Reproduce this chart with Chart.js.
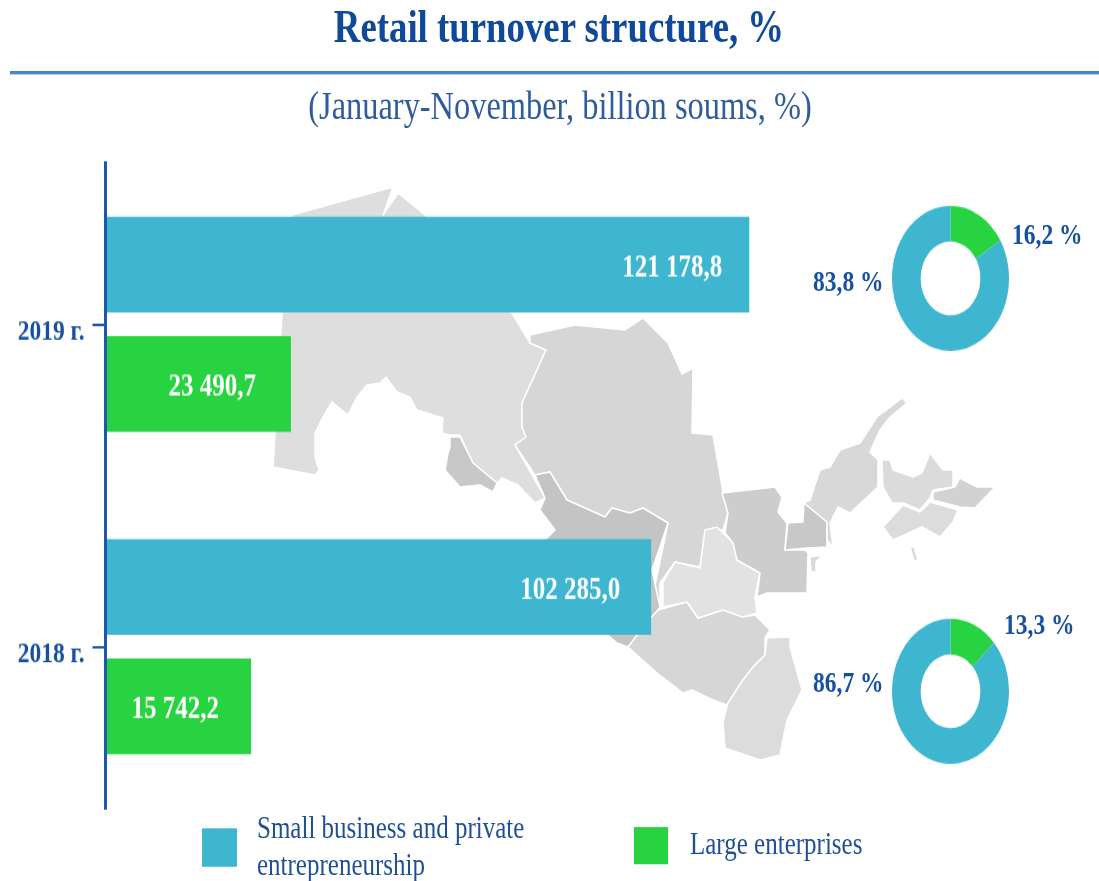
<!DOCTYPE html>
<html>
<head>
<meta charset="utf-8">
<title>Retail turnover structure</title>
<script src="https://cdn.jsdelivr.net/npm/chart.js@4"></script>
<style>
  html, body { margin: 0; padding: 0; background: #fff; overflow: hidden; }
  body { width: 1099px; height: 881px; position: relative; }
  #map { position: absolute; left: 0; top: 0; filter: blur(0.6px); }
  /* the reference is stretched vertically, so everything sits in a box scaled in y */
  #page {
    position: absolute; left: 0; top: 0; width: 1099px; height: 710.5px;
    transform: scaleY(1.24); transform-origin: 0 0;
    font-family: "Liberation Serif", serif; color: #16509e;
  }
  #page > * { position: absolute; }
  #barChart { left: 0; top: 0; }
  #title { left: 0; width: 1118px; top: 0; text-align: center; font-size: 36.8px; font-weight: bold; color: #0f4a9a; white-space: nowrap; }
  #rule { left: 10px; right: 0; top: 57px; height: 3px; background: #4b87c4; }
  #subtitle { left: 0; width: 1120px; top: 67px; text-align: center; font-size: 32.4px; color: #2f5c9c; white-space: nowrap; }
  .donut { width: 117px; height: 117px; }
  #donut2019 { left: 892px; top: 166px; }
  #donut2018 { left: 892px; top: 499px; }
  .share { font-size: 23.5px; font-weight: bold; line-height: 26px; white-space: nowrap; }
  #shareLarge2019 { left: 1012px; top: 176px; }
  #shareSmall2019 { left: 813px; top: 214px; }
  #shareLarge2018 { left: 1004px; top: 490px; }
  #shareSmall2018 { left: 813px; top: 537px; }
  #swatchSmall { left: 202px; top: 668px; width: 35px; height: 31px; background: #3eb6d0; }
  #swatchLarge { left: 634px; top: 667px; width: 34px; height: 30px; background: #27d340; }
  .legendText { font-size: 25px; line-height: 30px; color: #1f4f96; }
  #legendSmall { left: 257px; top: 653px; width: 300px; }
  #legendLarge { left: 690px; top: 666px; white-space: nowrap; }
</style>
</head>
<body>
<!-- background map, traced roughly, only decoration -->
<svg id="map" width="1099" height="881" stroke="#fff" stroke-width="1.5" stroke-linejoin="round">
  <polygon fill="#dedede" points="292,215 393,187 383,215 398,193 425,215 512,313 530,343 546,350 522,403 522,427 526,437 515,445 545,498 535,503 518,485 502,478 497,483 473,463 460,435 450,435 442,433 443,418 417,410 410,397 397,392 386,377 380,383 367,385 357,397 348,415 332,402 323,417 315,433 315,457 319,470 315,475 273,467 282,313"/>
  <polygon fill="#c8c8c8" points="450,437 460,437 473,463 497,483 493,492 480,485 460,487 445,470 448,453 450,447"/>
  <polygon fill="#d6d6d6" points="530,335 575,325 625,330 643,318 668,343 682,374 693,368 692,433 713,435 723,492 728,513 723,530 705,530 700,567 675,562 660,583 660,607 652,600 668,523 643,508 630,513 612,508 605,517 567,500 550,472 535,475 515,445 526,437 522,427 522,403 546,350 530,343"/>
  <polygon fill="#c4c4c4" points="535,475 550,472 567,500 605,517 612,508 630,513 643,508 668,523 652,570 660,607 650,622 628,647 617,643 590,620 545,540 555,530 540,510 545,498"/>
  <polygon fill="#d6d6d6" points="658,610 687,602 698,618 723,610 743,617 755,615 770,630 765,638 765,655 753,667 743,680 727,705 713,700 692,690 683,693 657,673 628,647 647,622"/>
  <polygon fill="#dcdcdc" points="767,638 790,637 790,647 802,690 787,720 780,755 760,760 725,748 723,722 728,703 743,680 753,667 765,655"/>
  <polygon fill="#e2e2e2" points="663,582 675,562 700,568 705,530 717,527 733,543 737,560 760,573 755,597 757,613 743,617 723,610 698,618 687,602 663,607"/>
  <polygon fill="#cdcdcd" points="722,493 775,487 782,497 778,512 787,523 785,550 805,550 808,553 807,593 767,593 757,597 760,573 737,560 733,543 725,533 728,513"/>
  <polygon fill="#c8c8c8" points="804,502 827,522 827,547 807,548 785,550 788,523 803,522"/>
  <polygon fill="#d8d8d8" points="810,500 820,470 830,467 840,450 860,443 877,417 902,398 907,403 890,417 880,430 870,452 878,460 878,487 850,513 838,507 830,523 833,547 827,540 827,522 804,503"/>
  <polygon fill="#dbdbdb" points="882,460 890,460 893,470 913,477 922,473 930,453 943,470 953,470 953,487 933,490 930,498 920,510 903,503 892,503 883,487"/>
  <polygon fill="#d2d2d2" points="933,492 955,487 960,478 977,487 995,487 975,508 960,507 933,500"/>
  <polygon fill="#dcdcdc" points="903,505 920,512 930,502 958,510 953,522 940,537 922,527 893,540 883,527"/>
  <polygon fill="#dadada" points="910,547 914,547 918,560 914,561"/>
  <polygon fill="#dadada" points="810,557 822,555 816,562 816,572 811,572"/>
</svg>
<div id="page">
  <canvas id="barChart"></canvas>
  <div id="title">Retail turnover structure, %</div>
  <div id="rule"></div>
  <div id="subtitle">(January-November, billion soums, %)</div>
  <div class="donut" id="donut2019"><canvas id="donutCanvas2019" width="117" height="117"></canvas></div>
  <div class="donut" id="donut2018"><canvas id="donutCanvas2018" width="117" height="117"></canvas></div>
  <div class="share" id="shareLarge2019"></div>
  <div class="share" id="shareSmall2019"></div>
  <div class="share" id="shareLarge2018"></div>
  <div class="share" id="shareSmall2018"></div>
  <div id="swatchSmall"></div>
  <div id="swatchLarge"></div>
  <div class="legendText" id="legendSmall"></div>
  <div class="legendText" id="legendLarge"></div>
</div>
<script>
const categories = ["2019 г.", "2018 г."];
const seriesNames = ["Small business and private entrepreneurship", "Large enterprises"];

// values printed on the bars
const smallBusinessValues = [121178.8, 102285.0];
const largeEnterpriseValues = [23490.7, 15742.2];

// lengths the bars have in the picture. the green ones are drawn
// longer than their printed values, so length and label are kept apart
const smallBusinessLengths = [121178.8, 102700];
const largeEnterpriseLengths = [34900, 27400];

const smallBusinessShares = [83.8, 86.7];
const largeEnterpriseShares = [16.2, 13.3];

const BLUE = "#3eb6d0";
const GREEN = "#27d340";
const AXIS = "#1c5aa8";
const FONT = "Liberation Serif";

function formatValue(v) {
  return v.toFixed(1).replace(".", ",").replace(/\B(?=(\d{3})+,)/g, " ");
}

function formatShare(v) {
  return v.toFixed(1).replace(".", ",") + " %";
}

// prints the values inside the bars, a bit before their end
const barValuesPlugin = {
  id: "barValues",
  afterDatasetsDraw(chart) {
    const ctx = chart.ctx;
    const printed = [smallBusinessValues, largeEnterpriseValues];
    const gaps = [[27, 31], [35, 32]];
    ctx.save();
    ctx.fillStyle = "#fff";
    ctx.font = "bold 25px '" + FONT + "'";
    ctx.textAlign = "right";
    ctx.textBaseline = "middle";
    printed.forEach((values, d) => {
      chart.getDatasetMeta(d).data.forEach((bar, i) => {
        ctx.fillText(formatValue(values[i]), bar.x - gaps[d][i], bar.y + 3);
      });
    });
    ctx.restore();
  },
};

const barCanvas = document.getElementById("barChart");
barCanvas.width = 1099;
barCanvas.height = 710;

new Chart(barCanvas, {
  type: "bar",
  data: {
    labels: categories,
    datasets: [
      { label: seriesNames[0], data: smallBusinessLengths, backgroundColor: BLUE },
      { label: seriesNames[1], data: largeEnterpriseLengths, backgroundColor: GREEN },
    ],
  },
  options: {
    indexAxis: "y",
    responsive: false,
    animation: false,
    events: [],
    categoryPercentage: 0.741,
    barPercentage: 0.803,
    layout: { padding: { top: 131.5, bottom: 58.5 } },
    plugins: { legend: { display: false }, tooltip: { enabled: false } },
    scales: {
      x: { display: false, min: 0, max: 187000 },
      y: {
        afterFit(scale) {
          scale.width = 105.5;
        },
        border: { color: AXIS, width: 3, z: 1 },
        grid: { color: AXIS, lineWidth: 2, tickLength: 13, offset: false, drawOnChartArea: false },
        ticks: { color: "#16509e", padding: 8, labelOffset: 6, font: { family: FONT, size: 23.5, weight: "bold" } },
      },
    },
  },
  plugins: [barValuesPlugin],
});

function drawDonut(id, i) {
  new Chart(document.getElementById(id), {
    type: "doughnut",
    data: {
      labels: [seriesNames[1], seriesNames[0]],
      datasets: [
        {
          data: [largeEnterpriseShares[i], smallBusinessShares[i]],
          backgroundColor: [GREEN, BLUE],
          borderWidth: 0,
        },
      ],
    },
    options: {
      responsive: false,
      animation: false,
      events: [],
      cutout: "51%",
      plugins: { legend: { display: false }, tooltip: { enabled: false } },
    },
  });
}

drawDonut("donutCanvas2019", 0);
drawDonut("donutCanvas2018", 1);

document.getElementById("shareLarge2019").textContent = formatShare(largeEnterpriseShares[0]);
document.getElementById("shareSmall2019").textContent = formatShare(smallBusinessShares[0]);
document.getElementById("shareLarge2018").textContent = formatShare(largeEnterpriseShares[1]);
document.getElementById("shareSmall2018").textContent = formatShare(smallBusinessShares[1]);
document.getElementById("legendSmall").textContent = seriesNames[0];
document.getElementById("legendLarge").textContent = seriesNames[1];
</script>
</body>
</html>
